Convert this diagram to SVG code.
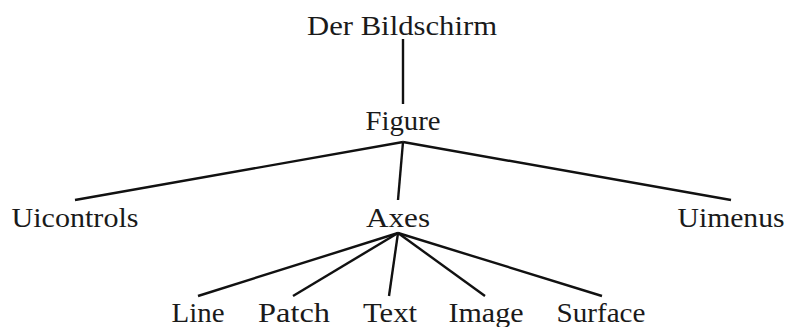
<svg xmlns="http://www.w3.org/2000/svg" width="787" height="327" viewBox="0 0 787 327">
  <style>
    .lbl { font-family: "Liberation Serif", "DejaVu Serif", serif; font-size: 28px; fill: #1a1a1a; text-anchor: middle; }
    .edge { stroke: #111; stroke-width: 2.4; fill: none; stroke-linecap: butt; }
  </style>
  <rect width="787" height="327" fill="#fff"/>
  <g id="connectors">
    <line class="edge" x1="403" y1="39" x2="403" y2="104"/>
    <line class="edge" x1="403" y1="142" x2="75" y2="200"/>
    <line class="edge" x1="403" y1="142" x2="398" y2="200"/>
    <line class="edge" x1="403" y1="142" x2="731" y2="200"/>
    <line class="edge" x1="398" y1="233" x2="198" y2="296"/>
    <line class="edge" x1="398" y1="233" x2="293" y2="296"/>
    <line class="edge" x1="398" y1="233" x2="389" y2="296"/>
    <line class="edge" x1="398" y1="233" x2="485" y2="296"/>
    <line class="edge" x1="398" y1="233" x2="602" y2="296"/>
  </g>
  <g id="bildschirm"><text class="lbl" x="402" y="35" textLength="190" lengthAdjust="spacingAndGlyphs">Der Bildschirm</text></g>
  <g id="figure"><text class="lbl" x="403" y="130" textLength="75" lengthAdjust="spacingAndGlyphs">Figure</text></g>
  <g id="uicontrols"><text class="lbl" x="75" y="227" textLength="127" lengthAdjust="spacingAndGlyphs">Uicontrols</text></g>
  <g id="axes"><text class="lbl" x="398" y="227" textLength="64" lengthAdjust="spacingAndGlyphs">Axes</text></g>
  <g id="uimenus"><text class="lbl" x="731" y="227" textLength="107" lengthAdjust="spacingAndGlyphs">Uimenus</text></g>
  <g id="line"><text class="lbl" x="198" y="322" textLength="53" lengthAdjust="spacingAndGlyphs">Line</text></g>
  <g id="patch"><text class="lbl" x="294" y="322" textLength="72" lengthAdjust="spacingAndGlyphs">Patch</text></g>
  <g id="text"><text class="lbl" x="390" y="322" textLength="54" lengthAdjust="spacingAndGlyphs">Text</text></g>
  <g id="image"><text class="lbl" x="486" y="322" textLength="75" lengthAdjust="spacingAndGlyphs">Image</text></g>
  <g id="surface"><text class="lbl" x="601" y="322" textLength="89" lengthAdjust="spacingAndGlyphs">Surface</text></g>
</svg>
